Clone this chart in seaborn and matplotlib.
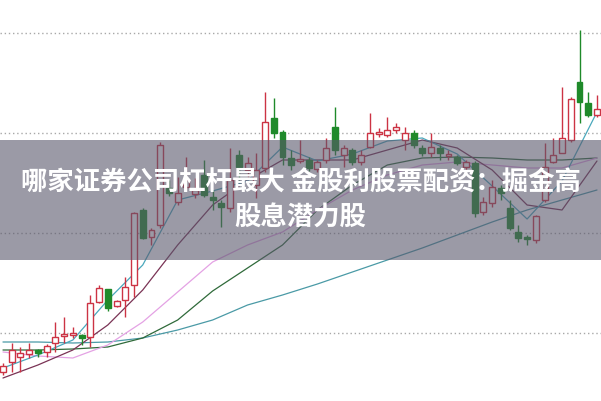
import numpy as np
import pandas as pd
import matplotlib
matplotlib.use("Agg")
import matplotlib.pyplot as plt
from matplotlib.patches import Rectangle
import seaborn as sns

# candle data (price units)
opens = [5.61, 5.71, 5.76, 5.79, 5.83, 5.81, 5.90, 5.97, 5.98, 5.98,
         5.96, 6.31, 6.44, 6.27, 6.33, 6.48, 7.23, 6.96, 7.08, 7.45,
         7.31, 7.46, 7.39, 7.58, 7.36, 7.30, 7.25, 7.78, 7.63, 7.48,
         7.65, 8.15, 8.01, 7.75, 7.72, 7.73, 7.64, 7.73, 8.06, 7.78,
         7.83, 7.71, 7.86, 7.99, 7.98, 8.03, 7.93, 8.00, 7.85, 7.80,
         7.85, 7.77, 7.76, 7.66, 7.70, 7.21, 7.30, 7.45, 7.25, 7.01,
         6.96, 6.93, 7.33, 7.71, 7.80, 7.93, 8.51, 8.30, 8.18]
highs = [5.70, 5.90, 5.86, 5.90, 5.84, 5.89, 6.11, 6.16, 6.06, 5.99,
         6.38, 6.48, 6.44, 6.33, 6.56, 7.21, 7.25, 7.05, 7.91, 7.53,
         7.56, 7.76, 7.55, 7.73, 7.43, 7.33, 7.85, 7.83, 7.76, 7.80,
         8.41, 8.35, 8.03, 7.83, 7.93, 7.76, 7.73, 7.95, 8.26, 7.88,
         7.85, 7.83, 8.20, 8.05, 8.16, 8.10, 8.06, 8.03, 7.88, 8.00,
         7.88, 7.83, 7.78, 7.73, 7.72, 7.36, 7.53, 7.48, 7.33, 7.08,
         6.98, 7.18, 7.90, 7.95, 8.46, 8.36, 9.03, 8.41, 8.38]
lows = [5.58, 5.61, 5.61, 5.75, 5.76, 5.76, 5.81, 5.90, 5.95, 5.88,
        5.86, 6.30, 6.22, 6.26, 6.16, 6.36, 6.94, 6.88, 7.05, 7.37,
        7.28, 7.43, 7.35, 7.36, 7.23, 7.06, 7.21, 7.53, 7.56, 7.35,
        7.61, 7.95, 7.68, 7.63, 7.70, 7.62, 7.61, 7.70, 7.78, 7.66,
        7.68, 7.68, 7.85, 7.96, 7.96, 8.00, 7.83, 7.85, 7.77, 7.76,
        7.73, 7.73, 7.68, 7.63, 7.16, 7.18, 7.26, 7.33, 7.03, 6.91,
        6.88, 6.90, 7.31, 7.70, 7.80, 7.91, 8.10, 8.16, 8.16]
closes = [5.67, 5.83, 5.80, 5.83, 5.80, 5.87, 5.96, 5.99, 6.00, 5.95,
          6.30, 6.45, 6.25, 6.32, 6.46, 7.20, 6.95, 7.03, 7.88, 7.40,
          7.40, 7.53, 7.43, 7.38, 7.33, 7.26, 7.53, 7.66, 7.70, 7.63,
          8.11, 8.00, 7.76, 7.68, 7.74, 7.65, 7.71, 7.85, 7.83, 7.85,
          7.71, 7.78, 8.00, 8.01, 8.03, 8.06, 8.00, 7.88, 7.80, 7.86,
          7.80, 7.79, 7.70, 7.71, 7.20, 7.31, 7.46, 7.40, 7.05, 6.95,
          6.94, 7.17, 7.66, 7.78, 7.95, 8.34, 8.31, 8.18, 8.24]

# moving average lines, read every 4th candle
ma_idx = [0, 4, 8, 12, 16, 20, 24, 28, 32, 36, 40, 44, 48, 52, 56, 60, 64, 68]
ma5 = [5.65, 5.78, 5.93, 6.33, 6.68, 7.33, 7.42, 7.52, 7.86, 7.72, 7.79, 7.92,
       7.95, 7.79, 7.47, 7.14, 7.52, 8.21]
ma10 = [5.55, 5.68, 5.83, 6.08, 6.43, 6.88, 7.28, 7.53, 7.73, 7.73, 7.73, 7.83,
        7.93, 7.85, 7.63, 7.28, 7.23, 7.72]
ma20 = [5.81, 5.77, 5.75, 5.88, 6.11, 6.41, 6.71, 6.88, 7.01, 7.23, 7.43, 7.58,
        7.68, 7.71, 7.68, 7.65, 7.65, 7.75]
ma30 = [5.83, 5.83, 5.84, 5.86, 5.95, 6.13, 6.42, 6.65, 6.88, 7.23, 7.48, 7.68,
        7.75, 7.76, 7.75, 7.73, 7.73, 7.75]
ma60 = [5.91, 5.91, 5.90, 5.91, 5.95, 6.03, 6.13, 6.28, 6.38, 6.49, 6.61, 6.73,
        6.85, 6.98, 7.11, 7.23, 7.33, 7.43]

grid_levels = [6, 7, 8, 9]
title_1 = "哪家证券公司杠杆最大 金股利股票配资：掘金高"
title_2 = "股息潜力股"

sns.set_style("white")
plt.rcParams['font.family'] = ['Noto Sans CJK SC', 'DejaVu Sans']

RED = "#cc3344"
GREEN = "#1f8a2a"

fig = plt.figure(figsize=(6.01, 4.01), dpi=100)
ax = fig.add_axes([0, 0, 1, 1])

for g in grid_levels:
    ax.axhline(g, color="#a8a8a8", linewidth=1, linestyle=(0, (1, 2)), zorder=1)

ma_lines = [(ma60, "#4a9aa6"), (ma30, "#2f6a3a"), (ma20, "#e4a2e4"),
            (ma10, "#7a3355"), (ma5, "#4aa8bc")]
for vals, col in ma_lines:
    sns.lineplot(x=ma_idx, y=vals, color=col, linewidth=0.9, ax=ax, zorder=2)

df = pd.DataFrame({"o": opens, "h": highs, "l": lows, "c": closes})
df["i"] = np.arange(len(df))
up = df["c"] >= df["o"]

for _, r in df.iterrows():
    col = RED if r["c"] >= r["o"] else GREEN
    ax.vlines(r["i"], r["l"], r["h"], color=col, linewidth=1, zorder=3)

body_lo = np.minimum(df["o"], df["c"])
body_h = np.maximum((df["c"] - df["o"]).abs(), 0.012)
ax.bar(df["i"][up], body_h[up], bottom=body_lo[up], width=0.68,
       facecolor="white", edgecolor=RED, linewidth=1, zorder=4)
ax.bar(df["i"][~up], body_h[~up], bottom=body_lo[~up], width=0.68,
       facecolor=GREEN, edgecolor=GREEN, linewidth=1, zorder=4)

ax.set_xlim(-0.34, 68.46)
ax.set_ylim(5.32, 9.33)
ax.set_xticks([])
ax.set_yticks([])
for s in ax.spines.values():
    s.set_visible(False)
ax.set_xlabel("")
ax.set_ylabel("")

# title banner
fig.patches.append(Rectangle((0, 0.352), 1, 0.299, transform=fig.transFigure,
                             facecolor="#59576b", alpha=0.6, edgecolor="none", zorder=10))
fig.text(0.5, 0.543, title_1, color="white", fontsize=19, fontweight="bold",
         ha="center", va="center", zorder=11)
fig.text(0.5, 0.455, title_2, color="white", fontsize=19, fontweight="bold",
         ha="center", va="center", zorder=11)

fig.savefig("out.png", dpi=100)
